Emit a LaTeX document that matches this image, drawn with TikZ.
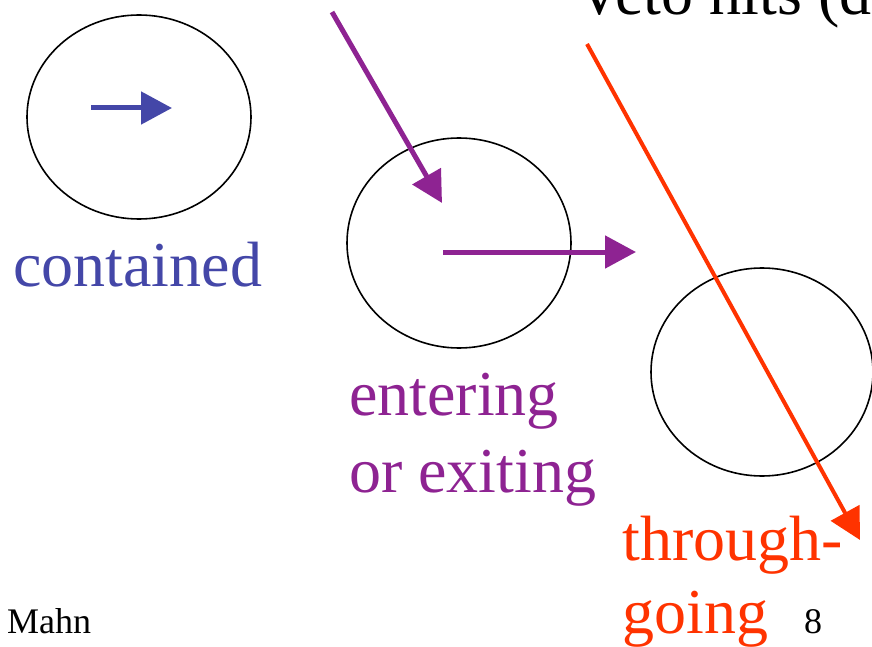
\documentclass[tikz,border=0pt]{standalone}
\usepackage{fontspec}
\setmainfont{Liberation Serif}
\usetikzlibrary{arrows.meta}
\definecolor{ContBlue}{HTML}{4447A8}
\definecolor{EntPurple}{HTML}{8E2392}
\definecolor{ThruRed}{HTML}{FF3300}

\begin{document}
\begin{tikzpicture}[x=1pt,y=-1pt, every node/.style={inner sep=0pt, anchor=base west},
  big/.style={font=\fontsize{64}{72}\selectfont},
  small/.style={font=\fontsize{36}{40}\selectfont},
  detector/.style={draw=black, line width=1.6pt},
  track/.style={line width=5pt, -{Triangle[length=31pt,width=32pt]}}]
  \useasboundingbox (0,0) rectangle (872,647);

  % detector volumes
  \draw[detector] (139,117) ellipse [x radius=112, y radius=102];
  \draw[detector] (459,243) ellipse [x radius=112, y radius=105];
  \draw[detector] (762,372) ellipse [x radius=111, y radius=104];

  % track end points
  \coordinate (c0) at (91,108);   \coordinate (c1) at (172,108);
  \coordinate (e0) at (332,12);   \coordinate (e1) at (442,203);
  \coordinate (x0) at (443,252);  \coordinate (x1) at (636,252);
  \coordinate (t0) at (587,44);   \coordinate (t1) at (860,540);

  \draw[track, ContBlue] (c0) -- (c1);
  \draw[track, EntPurple] (e0) -- (e1);
  \draw[track, EntPurple] (x0) -- (x1);
  \draw[track, ThruRed, line width=4pt] (t0) -- (t1);

  % labels
  \node[big] (veto) at (576,15) {Veto hits (d};
  \node[big, text=ContBlue] (cont) at (13,286) {contained};
  \node[big, text=EntPurple] (ent) at (349,415) {entering};
  \node[big, text=EntPurple] (exit) at (349,492) {or exiting};
  \node[big, text=ThruRed] (thru) at (622,560) {through-};
  \node[big, text=ThruRed] (going) at (622,633) {going};
  \node[small] (auth) at (7,633) {Mahn};
  \node[small] (page) at (804,633) {8};
\end{tikzpicture}
\end{document}
